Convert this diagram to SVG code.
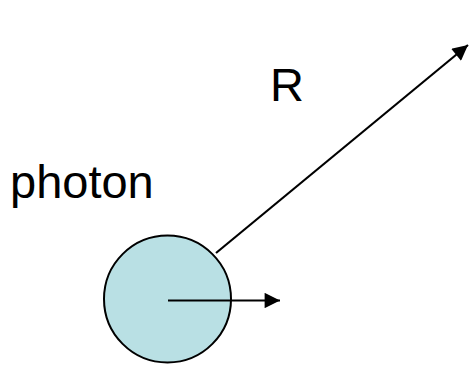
<svg xmlns="http://www.w3.org/2000/svg" width="469" height="365" viewBox="0 0 469 365">
<style>
text{font-family:"Liberation Sans",Arial,sans-serif;font-size:47px;fill:#000}
.ln{stroke:#000;stroke-width:2.2;fill:none}
</style>
<defs>
<marker id="ah" viewBox="0 0 10 10" refX="10" refY="5" markerWidth="8" markerHeight="7" markerUnits="strokeWidth" orient="auto">
<path d="M0,0 L10,5 L0,10 z" fill="#000"/>
</marker>
</defs>
<g id="photon">
<circle cx="167.5" cy="299" r="63.5" fill="#b9e0e4" stroke="#000" stroke-width="2"/>
</g>
<g id="labels">
<text x="10" y="198">photon</text>
<text x="270" y="101">R</text>
</g>
<g id="connectors">
<line class="ln" x1="168" y1="300.5" x2="280" y2="300.5" marker-end="url(#ah)"/>
<line class="ln" x1="216" y1="253" x2="468" y2="45" marker-end="url(#ah)"/>
</g>
</svg>
